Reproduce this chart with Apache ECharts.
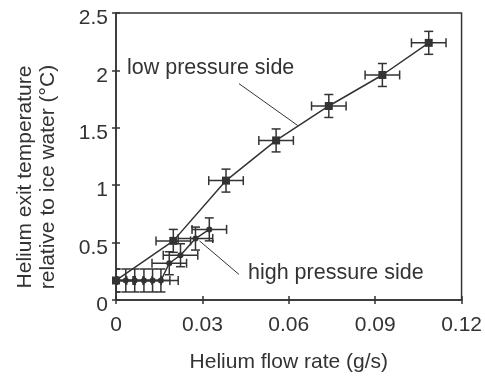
<!DOCTYPE html>
<html>
<head>
<meta charset="utf-8">
<script src="https://cdn.jsdelivr.net/npm/echarts@6/dist/echarts.min.js"></script>
<style>
  html, body { margin: 0; padding: 0; background: #fff; }
  #chart { width: 485px; height: 378px; }
</style>
</head>
<body>
<div id="chart"></div>
<script>
// low pressure side (squares)
var lowX = [0, 0.0199, 0.0382, 0.0556, 0.0739, 0.0925, 0.1086];
var lowY = [0.17, 0.515, 1.04, 1.39, 1.69, 1.96, 2.24];
var lowXErr = [0.006, 0.006, 0.006, 0.006, 0.006, 0.006, 0.006];
var lowYErr = [0.1, 0.1, 0.1, 0.1, 0.1, 0.1, 0.1];

// high pressure side (dots)
var highX = [0, 0.0034, 0.0065, 0.0097, 0.0127, 0.0156, 0.0185, 0.0224, 0.0276, 0.0324];
var highY = [0.17, 0.17, 0.17, 0.17, 0.17, 0.17, 0.32, 0.39, 0.535, 0.615];
var highXErr = [0.006, 0.006, 0.006, 0.006, 0.006, 0.006, 0.006, 0.006, 0.006, 0.006];
var highYErr = [0.1, 0.1, 0.1, 0.1, 0.1, 0.1, 0.1, 0.1, 0.1, 0.1];

var xTicks = { min: 0, max: 0.12, interval: 0.03 };
var yTicks = { min: 0, max: 2.5, interval: 0.5 };

// leader lines for the two labels, in data units
var lowLeader = [[0.0427, 1.885], [0.0631, 1.52]];
var highLeader = [[0.029, 0.515], [0.0427, 0.223]];

var ink = '#333';
var font = 'Liberation Sans, Arial, sans-serif';

function pairs(xs, ys) {
  return xs.map(function (x, i) { return [x, ys[i]]; });
}
function errRows(xs, ys, ex, ey) {
  return xs.map(function (x, i) { return [x, ys[i], ex[i], ey[i]]; });
}

function renderErr(params, api) {
  var x = api.value(0), y = api.value(1), ex = api.value(2), ey = api.value(3);
  var l = api.coord([x - ex, y]), r = api.coord([x + ex, y]);
  var t = api.coord([x, y + ey]), b = api.coord([x, y - ey]);
  var cap = 4.5;
  var st = { stroke: ink, lineWidth: 1.5 };
  function seg(x1, y1, x2, y2) {
    return { type: 'line', shape: { x1: x1, y1: y1, x2: x2, y2: y2 }, style: st };
  }
  return {
    type: 'group',
    children: [
      seg(l[0], l[1], r[0], r[1]),
      seg(l[0], l[1] - cap, l[0], l[1] + cap),
      seg(r[0], r[1] - cap, r[0], r[1] + cap),
      seg(t[0], t[1], b[0], b[1]),
      seg(t[0] - cap, t[1], t[0] + cap, t[1]),
      seg(b[0] - cap, b[1], b[0] + cap, b[1])
    ]
  };
}

// second copy of an axis that only draws inner half of the ticks
function innerTicks(range, pos) {
  return {
    type: 'value', position: pos,
    min: range.min, max: range.max, interval: range.interval,
    axisLine: { show: false },
    axisTick: { inside: true, length: 4, lineStyle: { color: ink, width: 1.5 } },
    axisLabel: { show: false },
    splitLine: { show: false }
  };
}

var chart = echarts.init(document.getElementById('chart'));
chart.setOption({
  animation: false,
  textStyle: { fontFamily: font },
  grid: {
    left: 116, right: 18, top: 13, bottom: 75,
    show: true, borderColor: ink, borderWidth: 1.5
  },
  xAxis: [{
    type: 'value',
    min: xTicks.min, max: xTicks.max, interval: xTicks.interval,
    name: 'Helium flow rate (g/s)',
    nameLocation: 'middle',
    nameGap: 52,
    nameTextStyle: { color: ink, fontSize: 21, fontFamily: font },
    axisLine: { lineStyle: { color: ink, width: 1.5 } },
    axisTick: { inside: false, length: 4, lineStyle: { color: ink, width: 1.5 } },
    axisLabel: {
      color: ink, fontSize: 21, fontFamily: font, margin: 15,
      formatter: function (v) { return v === 0 ? '0' : v.toFixed(2); }
    },
    splitLine: { show: false }
  }, innerTicks(xTicks, 'bottom')],
  yAxis: [{
    type: 'value',
    min: yTicks.min, max: yTicks.max, interval: yTicks.interval,
    axisLine: { lineStyle: { color: ink, width: 1.5 } },
    axisTick: { inside: false, length: 4, lineStyle: { color: ink, width: 1.5 } },
    axisLabel: {
      color: ink, fontSize: 21, fontFamily: font, margin: 8,
      verticalAlign: 'top', lineHeight: 11
    },
    splitLine: { show: false }
  }, innerTicks(yTicks, 'left')],
  graphic: [
    {
      type: 'text', x: 37, y: 177, rotation: Math.PI / 2,
      style: {
        text: 'Helium exit temperature\nrelative to ice water (°C)',
        fill: ink, font: '21px ' + font, align: 'center', verticalAlign: 'middle', lineHeight: 23
      }
    },
    {
      type: 'text', x: 127, y: 68,
      style: { text: 'low pressure side', fill: ink, font: '21.5px ' + font, verticalAlign: 'middle' }
    },
    {
      type: 'text', x: 248, y: 273,
      style: { text: 'high pressure side', fill: ink, font: '21.5px ' + font, verticalAlign: 'middle' }
    }
  ],
  series: [
    {
      type: 'custom', renderItem: renderErr, clip: true,
      data: errRows(highX, highY, highXErr, highYErr), z: 2
    },
    {
      type: 'custom', renderItem: renderErr, clip: true,
      data: errRows(lowX, lowY, lowXErr, lowYErr), z: 2
    },
    {
      name: 'high pressure side', type: 'line',
      data: pairs(highX, highY),
      symbol: 'circle', symbolSize: 6,
      itemStyle: { color: ink },
      lineStyle: { color: ink, width: 1.5 },
      z: 3,
      markLine: {
        silent: true, symbol: 'none',
        lineStyle: { color: ink, width: 1, type: 'solid' },
        label: { show: false },
        data: [[{ coord: highLeader[0] }, { coord: highLeader[1] }]]
      }
    },
    {
      name: 'low pressure side', type: 'line',
      data: pairs(lowX, lowY),
      symbol: 'rect', symbolSize: 8,
      itemStyle: { color: ink },
      lineStyle: { color: ink, width: 1.5 },
      z: 3,
      markLine: {
        silent: true, symbol: 'none',
        lineStyle: { color: ink, width: 1, type: 'solid' },
        label: { show: false },
        data: [[{ coord: lowLeader[0] }, { coord: lowLeader[1] }]]
      }
    }
  ]
});
</script>
</body>
</html>
